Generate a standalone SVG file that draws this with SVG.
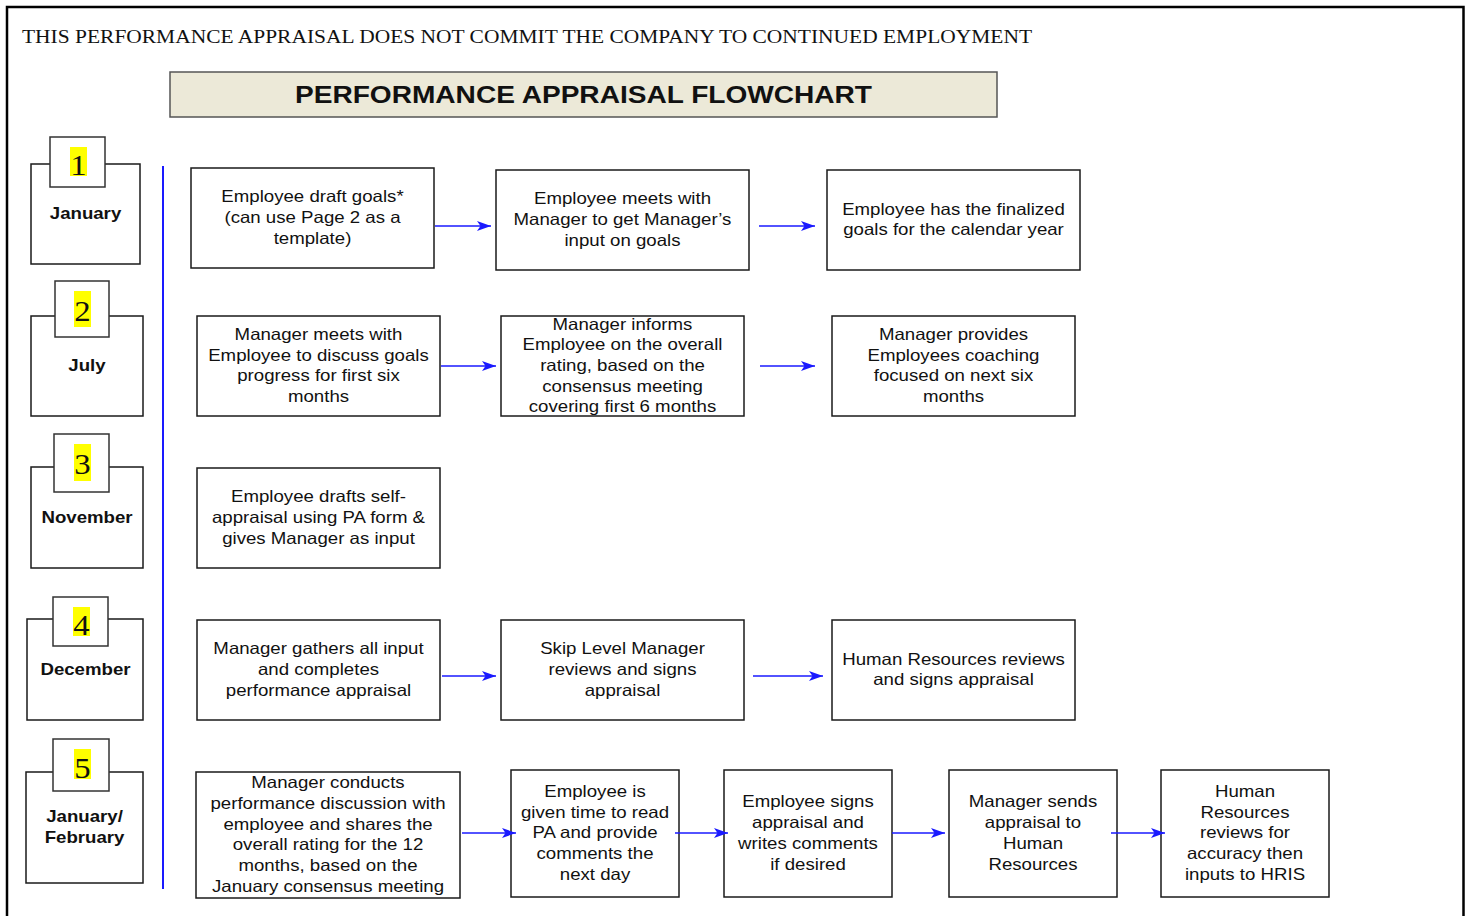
<svg xmlns="http://www.w3.org/2000/svg" width="1469" height="916" viewBox="0 0 1469 916">
  <style>
    .box { fill: #ffffff; stroke: #1a1a1a; stroke-width: 1.5; }
    .tab { fill: #ffffff; stroke: #333333; stroke-width: 1.5; }
    .hl { fill: #ffff00; }
    .t { font-family: "Liberation Sans", Arial, sans-serif; font-size: 16.5px; fill: #111111; text-anchor: middle; }
    .m { font-family: "Liberation Sans", Arial, sans-serif; font-size: 16.5px; font-weight: bold; fill: #111111; text-anchor: middle; }
    .n { font-family: "Liberation Serif", "Times New Roman", serif; font-size: 29px; fill: #111111; text-anchor: middle; }
    .conn { stroke: #1a1aff; stroke-width: 1.7; fill: none; }
  </style>
  <defs>
    <marker id="arrow" markerUnits="userSpaceOnUse" markerWidth="14" markerHeight="10" refX="14" refY="5" orient="auto">
      <path d="M0,0 L14,5 L0,10 L3.5,5 z" fill="#1a1aff"/>
    </marker>
  </defs>

  <rect width="1469" height="916" fill="#ffffff"/>
  <!-- page frame -->
  <path d="M7,920 V7 H1463.5 V920" fill="none" stroke="#000000" stroke-width="2.5"/>

  <text x="22" y="43" font-family="'Liberation Serif', 'Times New Roman', serif" font-size="19" fill="#111111" textLength="1010" lengthAdjust="spacingAndGlyphs">THIS PERFORMANCE APPRAISAL DOES NOT COMMIT THE COMPANY TO CONTINUED EMPLOYMENT</text>

  <g id="title">
    <rect x="170" y="72" width="827" height="45" fill="#ece9d8" stroke="#555555" stroke-width="1.5"/>
    <text x="295" y="103" font-family="'Liberation Sans', Arial, sans-serif" font-size="24" font-weight="bold" fill="#111111" textLength="577" lengthAdjust="spacingAndGlyphs">PERFORMANCE APPRAISAL FLOWCHART</text>
  </g>

  <!-- timeline rule -->
  <line x1="163" y1="166" x2="163" y2="889" stroke="#1a1aff" stroke-width="2"/>

  <!-- step markers -->
  <g id="step1">
    <rect class="box" x="31" y="164" width="109" height="100"/>
    <rect class="tab" x="50" y="137" width="55" height="50"/>
    <rect class="hl" x="70" y="147" width="17" height="29"/>
    <text class="n" transform="translate(78.5 0) scale(1.13 1)" x="0" y="175">1</text>
    <text class="m" transform="translate(85.5 0) scale(1.13 1)" x="0" y="219">January</text>
  </g>
  <g id="step2">
    <rect class="box" x="31" y="316" width="112" height="100"/>
    <rect class="tab" x="55" y="281" width="54" height="56"/>
    <rect class="hl" x="74" y="291" width="17" height="36"/>
    <text class="n" transform="translate(82.5 0) scale(1.13 1)" x="0" y="321">2</text>
    <text class="m" transform="translate(87 0) scale(1.13 1)" x="0" y="371">July</text>
  </g>
  <g id="step3">
    <rect class="box" x="31" y="467" width="112" height="101"/>
    <rect class="tab" x="54" y="434" width="55" height="58"/>
    <rect class="hl" x="74" y="444" width="17" height="37"/>
    <text class="n" transform="translate(82.5 0) scale(1.13 1)" x="0" y="474">3</text>
    <text class="m" transform="translate(87 0) scale(1.13 1)" x="0" y="523">November</text>
  </g>
  <g id="step4">
    <rect class="box" x="27" y="619" width="116" height="101"/>
    <rect class="tab" x="53" y="597" width="55" height="49"/>
    <rect class="hl" x="73" y="607" width="17" height="29"/>
    <text class="n" transform="translate(81.5 0) scale(1.13 1)" x="0" y="635">4</text>
    <text class="m" transform="translate(85.5 0) scale(1.13 1)" x="0" y="675">December</text>
  </g>
  <g id="step5">
    <rect class="box" x="26" y="772" width="117" height="111"/>
    <rect class="tab" x="53" y="739" width="56" height="52"/>
    <rect class="hl" x="74" y="749" width="17" height="30"/>
    <text class="n" transform="translate(82.5 0) scale(1.13 1)" x="0" y="778">5</text>
    <text class="m" transform="translate(84.5 0) scale(1.13 1)" x="0"><tspan x="0" y="822">January/</tspan><tspan x="0" y="843">February</tspan></text>
  </g>

  <!-- January -->
  <g id="draft-goals">
    <rect class="box" x="191" y="168" width="243" height="100"/>
    <text class="t" transform="translate(312.5 0) scale(1.13 1)"><tspan x="0" y="202.3">Employee draft goals*</tspan><tspan x="0" y="223">(can use Page 2 as a</tspan><tspan x="0" y="243.7">template)</tspan></text>
  </g>
  <g id="meet-manager">
    <rect class="box" x="496" y="170" width="253" height="100"/>
    <text class="t" transform="translate(622.5 0) scale(1.13 1)"><tspan x="0" y="204.3">Employee meets with</tspan><tspan x="0" y="225">Manager to get Manager’s</tspan><tspan x="0" y="245.7">input on goals</tspan></text>
  </g>
  <g id="final-goals">
    <rect class="box" x="827" y="170" width="253" height="100"/>
    <text class="t" transform="translate(953.5 0) scale(1.13 1)"><tspan x="0" y="214.6">Employee has the finalized</tspan><tspan x="0" y="235.3">goals for the calendar year</tspan></text>
  </g>

  <!-- July -->
  <g id="midyear-meeting">
    <rect class="box" x="197" y="316" width="243" height="100"/>
    <text class="t" transform="translate(318.5 0) scale(1.13 1)"><tspan x="0" y="340">Manager meets with</tspan><tspan x="0" y="360.7">Employee to discuss goals</tspan><tspan x="0" y="381.4">progress for first six</tspan><tspan x="0" y="402">months</tspan></text>
  </g>
  <g id="midyear-rating">
    <rect class="box" x="501" y="316" width="243" height="100"/>
    <text class="t" transform="translate(622.5 0) scale(1.13 1)"><tspan x="0" y="329.6">Manager informs</tspan><tspan x="0" y="350.3">Employee on the overall</tspan><tspan x="0" y="371">rating, based on the</tspan><tspan x="0" y="391.7">consensus meeting</tspan><tspan x="0" y="412.4">covering first 6 months</tspan></text>
  </g>
  <g id="coaching">
    <rect class="box" x="832" y="316" width="243" height="100"/>
    <text class="t" transform="translate(953.5 0) scale(1.13 1)"><tspan x="0" y="340">Manager provides</tspan><tspan x="0" y="360.7">Employees coaching</tspan><tspan x="0" y="381.4">focused on next six</tspan><tspan x="0" y="402">months</tspan></text>
  </g>

  <!-- November -->
  <g id="self-appraisal">
    <rect class="box" x="197" y="468" width="243" height="100"/>
    <text class="t" transform="translate(318.5 0) scale(1.13 1)"><tspan x="0" y="502.3">Employee drafts self-</tspan><tspan x="0" y="523">appraisal using PA form &amp;</tspan><tspan x="0" y="543.7">gives Manager as input</tspan></text>
  </g>

  <!-- December -->
  <g id="complete-appraisal">
    <rect class="box" x="197" y="620" width="243" height="100"/>
    <text class="t" transform="translate(318.5 0) scale(1.13 1)"><tspan x="0" y="654.3">Manager gathers all input</tspan><tspan x="0" y="675">and completes</tspan><tspan x="0" y="695.7">performance appraisal</tspan></text>
  </g>
  <g id="skip-level">
    <rect class="box" x="501" y="620" width="243" height="100"/>
    <text class="t" transform="translate(622.5 0) scale(1.13 1)"><tspan x="0" y="654.3">Skip Level Manager</tspan><tspan x="0" y="675">reviews and signs</tspan><tspan x="0" y="695.7">appraisal</tspan></text>
  </g>
  <g id="hr-signs">
    <rect class="box" x="832" y="620" width="243" height="100"/>
    <text class="t" transform="translate(953.5 0) scale(1.13 1)"><tspan x="0" y="664.6">Human Resources reviews</tspan><tspan x="0" y="685.3">and signs appraisal</tspan></text>
  </g>

  <!-- January / February -->
  <g id="discussion">
    <rect class="box" x="196" y="772" width="264" height="126"/>
    <text class="t" transform="translate(328 0) scale(1.13 1)"><tspan x="0" y="788.3">Manager conducts</tspan><tspan x="0" y="809">performance discussion with</tspan><tspan x="0" y="829.7">employee and shares the</tspan><tspan x="0" y="850.4">overall rating for the 12</tspan><tspan x="0" y="871">months, based on the</tspan><tspan x="0" y="891.8">January consensus meeting</tspan></text>
  </g>
  <g id="read-pa">
    <rect class="box" x="511" y="770" width="168" height="127"/>
    <text class="t" transform="translate(595 0) scale(1.13 1)"><tspan x="0" y="797.1">Employee is</tspan><tspan x="0" y="817.8">given time to read</tspan><tspan x="0" y="838.5">PA and provide</tspan><tspan x="0" y="859.2">comments the</tspan><tspan x="0" y="879.9">next day</tspan></text>
  </g>
  <g id="employee-signs">
    <rect class="box" x="724" y="770" width="168" height="127"/>
    <text class="t" transform="translate(808 0) scale(1.13 1)"><tspan x="0" y="807.5">Employee signs</tspan><tspan x="0" y="828.2">appraisal and</tspan><tspan x="0" y="848.9">writes comments</tspan><tspan x="0" y="869.6">if desired</tspan></text>
  </g>
  <g id="send-hr">
    <rect class="box" x="949" y="770" width="168" height="127"/>
    <text class="t" transform="translate(1033 0) scale(1.13 1)"><tspan x="0" y="807.5">Manager sends</tspan><tspan x="0" y="828.2">appraisal to</tspan><tspan x="0" y="848.9">Human</tspan><tspan x="0" y="869.6">Resources</tspan></text>
  </g>
  <g id="hris">
    <rect class="box" x="1161" y="770" width="168" height="127"/>
    <text class="t" transform="translate(1245 0) scale(1.13 1)"><tspan x="0" y="797.1">Human</tspan><tspan x="0" y="817.8">Resources</tspan><tspan x="0" y="838.5">reviews for</tspan><tspan x="0" y="859.2">accuracy then</tspan><tspan x="0" y="879.9">inputs to HRIS</tspan></text>
  </g>

  <g id="connectors" class="conn" marker-end="url(#arrow)">
    <line x1="435" y1="226" x2="491" y2="226"/>
    <line x1="759" y1="226" x2="815" y2="226"/>
    <line x1="441" y1="366" x2="496" y2="366"/>
    <line x1="760" y1="366" x2="815" y2="366"/>
    <line x1="442" y1="676" x2="496" y2="676"/>
    <line x1="753" y1="676" x2="823" y2="676"/>
    <line x1="462" y1="833" x2="516" y2="833"/>
    <line x1="675" y1="833" x2="728" y2="833"/>
    <line x1="892" y1="833" x2="945" y2="833"/>
    <line x1="1111" y1="833" x2="1165" y2="833"/>
  </g>
</svg>
